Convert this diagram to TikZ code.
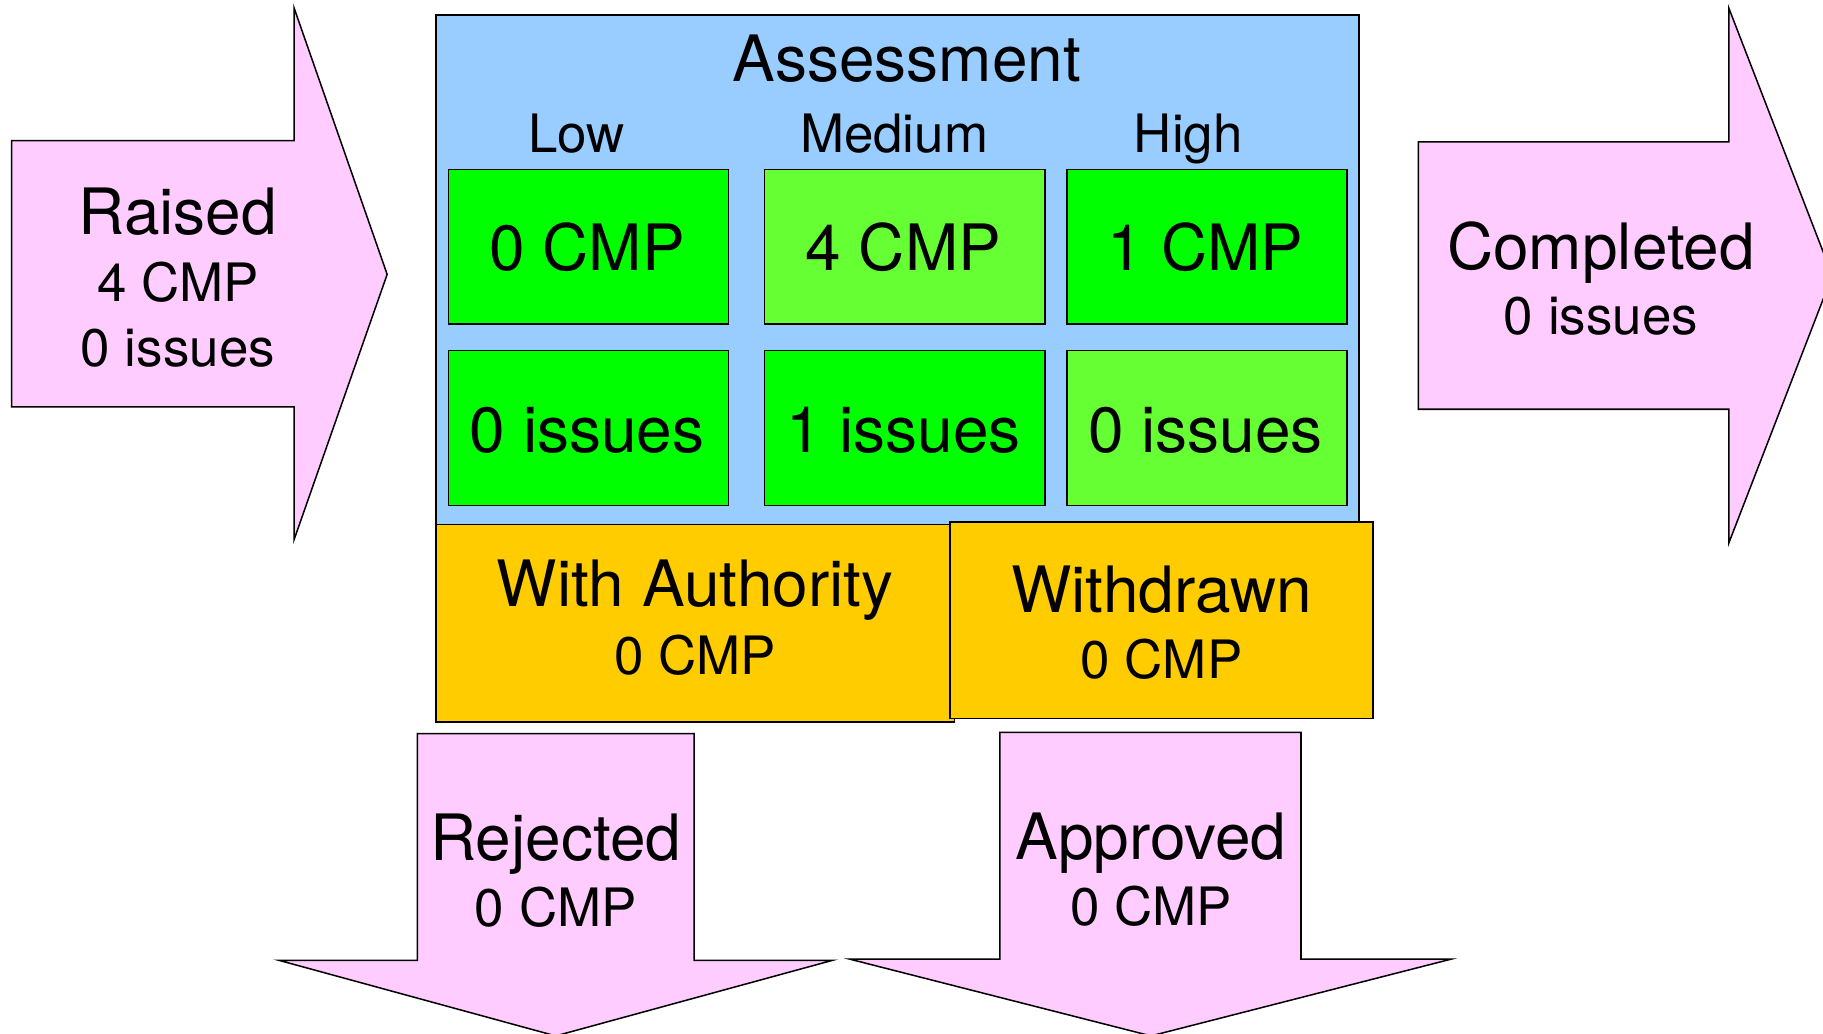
\documentclass[tikz,border=0pt]{standalone}
\usepackage{fontspec}
\setmainfont{TeX Gyre Heros}
\definecolor{pinkf}{HTML}{FFCCFF}
\definecolor{bluef}{HTML}{99CCFF}
\definecolor{greenA}{HTML}{00FF00}
\definecolor{greenB}{HTML}{66FF33}
\definecolor{goldf}{HTML}{FFCC00}
\tikzset{
  shp/.style={draw=black, line width=1.3pt, line join=miter},
  big/.style={anchor=base, inner sep=0pt, font=\fontsize{55}{60}\selectfont},
  small/.style={anchor=base, inner sep=0pt, font=\fontsize{45.5}{50}\selectfont},
  cell/.style={shp, anchor=north west, inner sep=0pt, minimum width=241pt, minimum height=133pt, text depth=0pt},
}
\begin{document}
\begin{tikzpicture}[x=1pt,y=-1pt]
\useasboundingbox (0,0) rectangle (1568,889);
\clip (0,0) rectangle (1568,889);
% Raised arrow
\draw[shp, fill=pinkf] (10,121) -- (253,121) -- (253,7) -- (333,236) -- (253,464) -- (253,350) -- (10,350) -- cycle;
\node[big] (raised) at (153,202) {Raised};
\node[small] (raisedcmp) at (153,259) {4 CMP};
\node[small] (raisediss) at (153,315) {0 issues};
% Completed arrow
\draw[shp, fill=pinkf] (1220,122) -- (1487,122) -- (1487,7) -- (1576,237) -- (1487,467) -- (1487,352) -- (1220,352) -- cycle;
\node[big] (completed) at (1377,232) {Completed};
\node[small] (completediss) at (1377,288) {0 issues};
% Assessment
\draw[shp, fill=bluef] (375,13) rectangle (1169,451);
\node[big] (assess) at (780,70) {Assessment};
\node[small] (low) at (496,131) {Low};
\node[small] (med) at (769,131) {Medium};
\node[small] (high) at (1022,131) {High};
\node[cell, fill=greenA] (c11) at (385,145) {};
\node[cell, fill=greenB] (c12) at (657,145) {};
\node[cell, fill=greenA] (c13) at (917,145) {};
\node[cell, fill=greenA] (c21) at (385,301) {};
\node[cell, fill=greenA] (c22) at (657,301) {};
\node[cell, fill=greenB] (c23) at (917,301) {};
\node[big] (t11) at (505,233) {0 CMP};
\node[big] (t12) at (777,233) {4 CMP};
\node[big] (t13) at (1037,233) {1 CMP};
\node[big] (t21) at (505,389) {0 issues};
\node[big] (t22) at (777,389) {1 issues};
\node[big] (t23) at (1037,389) {0 issues};
% With Authority / Withdrawn
\draw[shp, fill=goldf] (375,451) rectangle (821,621);
\node[big] (auth) at (598,522) {With Authority};
\node[small] (authcmp) at (598,580) {0 CMP};
\draw[shp, fill=goldf] (817,449) rectangle (1181,618);
\node[big] (withd) at (999,527) {Withdrawn};
\node[small] (withdcmp) at (999,584) {0 CMP};
% Rejected arrow
\draw[shp, fill=pinkf] (359,631) -- (597,631) -- (597,826) -- (716,826) -- (478,891) -- (240,826) -- (359,826) -- cycle;
\node[big] (rej) at (478,740) {Rejected};
\node[small] (rejcmp) at (478,797) {0 CMP};
% Approved arrow
\draw[shp, fill=pinkf] (860,630) -- (1119,630) -- (1119,825) -- (1248,825) -- (990,891) -- (731,825) -- (860,825) -- cycle;
\node[big] (appr) at (990,739) {Approved};
\node[small] (apprcmp) at (990,796) {0 CMP};
\end{tikzpicture}
\end{document}
